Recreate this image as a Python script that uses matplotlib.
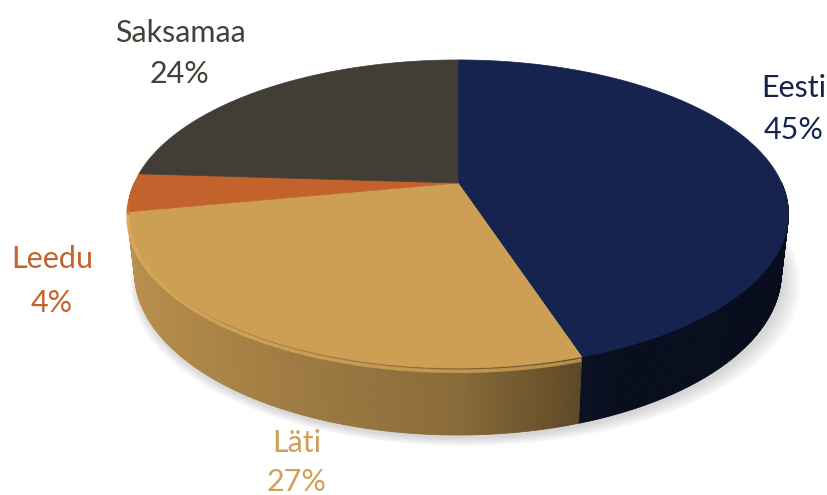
import matplotlib
matplotlib.use("Agg")
import matplotlib.pyplot as plt
from matplotlib.patches import Polygon
import numpy as np

# slice data (clockwise from 12 o'clock)
names = ["Eesti", "Läti", "Leedu", "Saksamaa"]
shares = [45, 27, 4, 24]
top_colors = ["#16234f", "#cd9f55", "#c4622d", "#423d35"]
label_colors = ["#16234f", "#cfa055", "#c4622d", "#45403a"]

# label anchors (x center, baseline of name, baseline of percent)
label_pos = [(794, 97, 139), (297, 452, 491), (52, 268, 312), (180, 42, 83)]

#region perspective setup
CX, CY = 458, 183
D = 4.43
sin_e, cos_e = 0.4565, 0.890
F = 1434.0
H = 0.2045


def project(X, Y, Z):
    den = D + Y * cos_e - Z * sin_e
    sx = F * X / den
    sy = F * (Y * sin_e + Z * cos_e) / den
    return CX + sx, CY - sy


def rim(t0, t1, z, n=200):
    t = np.radians(np.linspace(t0, t1, n))
    return project(np.cos(t), np.sin(t), z)


def shade(c):
    # c = cos(t); light comes from the left
    if c > 0:
        return max(0.38, 0.67 - 0.7 * c)
    return 0.67 - 0.25 * c


def scale_color(hexcol, f):
    rgb = np.array(matplotlib.colors.to_rgb(hexcol))
    return np.clip(rgb * f, 0, 1)
#endregion

fig = plt.figure(figsize=(8.28, 4.95), dpi=100)
ax = fig.add_axes([0, 0, 1, 1])
ax.set_xlim(0, 828)
ax.set_ylim(495, 0)
ax.axis("off")

# soft shadow under the pie
bx, by = rim(0, 360, -H, 300)
for i in range(10):
    s = 1 + 0.004 * i
    ax.add_patch(Polygon(np.column_stack([CX + (bx - CX) * s + 2 + i * 0.6, by + 3 + i * 0.9]),
                         closed=True, facecolor="#909090", edgecolor="none", alpha=0.04, zorder=0))

cum = np.concatenate([[0], np.cumsum(shares)]) / float(sum(shares))
angles = 90 - 360 * cum

# side faces, painter's order (far ones first)
quads = []
for k in range(len(names)):
    t0, t1 = angles[k], angles[k + 1]
    ts = np.linspace(t0, t1, max(2, int(abs(t1 - t0) * 3)))
    for a, b in zip(ts[:-1], ts[1:]):
        mid = np.radians((a + b) / 2)
        if np.sin(mid) >= 0:
            continue
        quads.append((np.sin(mid), a, b, k))
quads.sort(key=lambda q: -q[0])
for _, a, b, k in quads:
    ra, rb = np.radians(a), np.radians(b)
    xa, ya = project(np.cos(ra), np.sin(ra), 0)
    xb, yb = project(np.cos(rb), np.sin(rb), 0)
    xc, yc = project(np.cos(rb), np.sin(rb), -H)
    xd, yd = project(np.cos(ra), np.sin(ra), -H)
    col = scale_color(top_colors[k], shade(np.cos((ra + rb) / 2)))
    ax.add_patch(Polygon([(xa, ya), (xb, yb), (xc, yc), (xd, yd)], closed=True,
                         facecolor=col, edgecolor=col, lw=0.6, zorder=1))

# top faces
for k in range(len(names)):
    xs, ys = rim(angles[k], angles[k + 1], 0)
    pts = np.column_stack([np.concatenate([[CX], xs]), np.concatenate([[CY], ys])])
    ax.add_patch(Polygon(pts, closed=True, facecolor=top_colors[k],
                         edgecolor=top_colors[k], lw=0.5, zorder=2))

# soft bevel highlight along the lit front rim
for k in range(1, len(names)):
    t0, t1 = angles[k], angles[k + 1]
    ts = np.linspace(t0, t1, 120)
    for a, b in zip(ts[:-1], ts[1:]):
        m = np.radians((a + b) / 2)
        if np.sin(m) >= -0.1:
            continue
        f = 1 + 0.08 * max(0.0, -np.cos(m) + 0.3)
        col = scale_color(top_colors[k], f)
        xs, ys = rim(a, b, -0.01, 3)
        ax.plot(xs, ys, color=col, lw=2.5, alpha=0.8, solid_capstyle="butt", zorder=3)

# labels
for k in range(len(names)):
    x, y1, y2 = label_pos[k]
    ax.text(x, y1, names[k], color=label_colors[k], fontsize=22, family="Lato",
            ha="center", va="baseline")
    ax.text(x, y2, "%d%%" % shares[k], color=label_colors[k], fontsize=22, family="Lato",
            ha="center", va="baseline")

fig.savefig("out.png", dpi=100)
